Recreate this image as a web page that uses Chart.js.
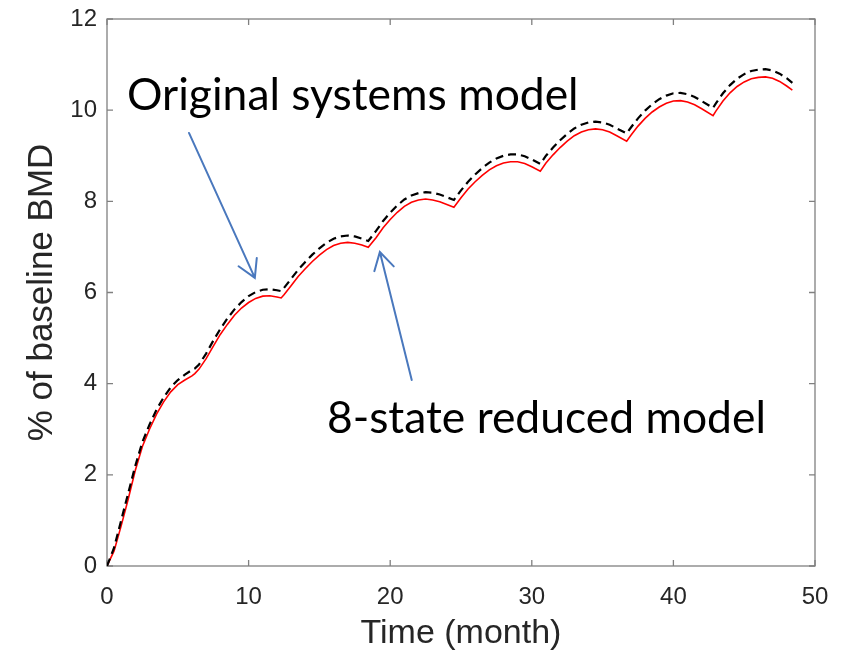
<!DOCTYPE html>
<html>
<head>
<meta charset="utf-8">
<script src="https://cdn.jsdelivr.net/npm/chart.js@4/dist/chart.umd.min.js"></script>
<style>
  html, body { margin: 0; padding: 0; background: #ffffff; }
  #wrap { width: 841px; height: 653px; }
</style>
</head>
<body>
<div id="wrap"><canvas id="bmd" width="841" height="653"></canvas></div>
<script>
// Time points (months)
const months = [
  0, 0.5, 1, 1.5, 2, 2.5, 3, 3.5, 4, 4.5, 5, 5.5, 6, 6.2,
  6.5, 7, 7.5, 8, 8.5, 9, 9.5, 10, 10.5, 11, 11.5, 12, 12.3,
  12.5, 13, 13.5, 14, 14.5, 15, 15.5, 16, 16.5, 17, 17.5, 18, 18.45,
  19, 19.5, 20, 20.5, 21, 21.5, 22, 22.5, 23, 23.5, 24, 24.5,
  25, 25.5, 26, 26.5, 27, 27.5, 28, 28.5, 29, 29.5, 30, 30.6,
  31, 31.5, 32, 32.5, 33, 33.5, 34, 34.5, 35, 35.5, 36, 36.7,
  37, 37.5, 38, 38.5, 39, 39.5, 40, 40.5, 41, 41.5, 42, 42.8,
  43, 43.5, 44, 44.5, 45, 45.5, 46, 46.5, 47, 47.5, 48, 48.4
];

// Original systems model (% of baseline BMD)
const originalModel = [
  0, 0.4, 1.0, 1.6, 2.2, 2.72, 3.1, 3.43, 3.7, 3.92, 4.08, 4.2, 4.3, 4.33,
  4.42, 4.66, 4.94, 5.2, 5.43, 5.63, 5.79, 5.92, 6.01, 6.06, 6.07, 6.05, 6.03,
  6.1, 6.3, 6.5, 6.67, 6.83, 6.97, 7.09, 7.18, 7.23, 7.25, 7.23, 7.18, 7.13,
  7.35, 7.57, 7.75, 7.91, 8.04, 8.13, 8.18, 8.2, 8.19, 8.15, 8.09, 8.03,
  8.24, 8.43, 8.59, 8.73, 8.85, 8.94, 9.0, 9.03, 9.03, 8.99, 8.92, 8.82,
  9.0, 9.18, 9.34, 9.48, 9.6, 9.68, 9.73, 9.75, 9.73, 9.68, 9.6, 9.49,
  9.62, 9.82, 9.99, 10.13, 10.24, 10.32, 10.37, 10.38, 10.35, 10.29, 10.2, 10.05,
  10.15, 10.37, 10.55, 10.69, 10.79, 10.86, 10.89, 10.9, 10.87, 10.8, 10.7, 10.6
];

// 8-state reduced model (% of baseline BMD)
const reducedModel = [
  0, 0.33, 0.88, 1.47, 2.1, 2.62, 3.0, 3.33, 3.6, 3.82, 3.98, 4.08, 4.17, 4.22,
  4.32, 4.55, 4.82, 5.08, 5.3, 5.5, 5.66, 5.78, 5.87, 5.92, 5.93, 5.9, 5.88,
  5.95, 6.15, 6.35, 6.52, 6.68, 6.82, 6.94, 7.03, 7.08, 7.1, 7.08, 7.04, 6.99,
  7.2, 7.42, 7.6, 7.76, 7.89, 7.98, 8.03, 8.05, 8.03, 7.99, 7.93, 7.87,
  8.08, 8.27, 8.43, 8.57, 8.69, 8.78, 8.84, 8.87, 8.87, 8.83, 8.76, 8.66,
  8.84, 9.02, 9.18, 9.32, 9.44, 9.52, 9.57, 9.59, 9.57, 9.52, 9.44, 9.32,
  9.45, 9.65, 9.82, 9.96, 10.07, 10.15, 10.2, 10.21, 10.18, 10.12, 10.03, 9.88,
  9.98, 10.2, 10.38, 10.52, 10.62, 10.69, 10.72, 10.73, 10.7, 10.63, 10.53, 10.44
];

// Axis tick values
const xTickValues = [0, 10, 20, 30, 40, 50];
const yTickValues = [0, 2, 4, 6, 8, 10, 12];

// Callout labels with arrows, placed in data coordinates
const callouts = [
  { text: 'Original systems model', textAt: [1.41, 10.0], from: [5.79, 9.5], to: [10.44, 6.32] },
  { text: '8-state reduced model',  textAt: [15.53, 2.92], from: [21.52, 4.08], to: [19.27, 6.89] }
];

const AXIS_GRAY = '#808080';
const TEXT_GRAY = '#262626';

const toPoints = (xs, ys) => xs.map((x, i) => ({ x: x, y: ys[i] }));

// Fixed scale thickness with no tick-label overhang into the layout
const fixX = s => { s.height = 87; s.paddingLeft = 0; s.paddingRight = 0; };
const fixY = s => { s.width = 107; s.paddingTop = 0; s.paddingBottom = 0; };

// Box around the plot area with inward tick marks on all four sides
const boxTicks = {
  id: 'boxTicks',
  beforeDatasetsDraw(chart) {
    const { ctx, chartArea: a, scales } = chart;
    const len = 6;
    ctx.save();
    ctx.strokeStyle = AXIS_GRAY;
    ctx.lineWidth = 1.3;
    ctx.strokeRect(a.left, a.top, a.right - a.left, a.bottom - a.top);
    ctx.beginPath();
    scales.x.ticks.forEach(t => {
      const px = scales.x.getPixelForValue(t.value);
      ctx.moveTo(px, a.bottom); ctx.lineTo(px, a.bottom - len);
      ctx.moveTo(px, a.top);    ctx.lineTo(px, a.top + len);
    });
    scales.y.ticks.forEach(t => {
      const py = scales.y.getPixelForValue(t.value);
      ctx.moveTo(a.left, py);  ctx.lineTo(a.left + len, py);
      ctx.moveTo(a.right, py); ctx.lineTo(a.right - len, py);
    });
    ctx.stroke();
    ctx.restore();
  }
};

// Text callouts with open-headed arrows
const calloutPlugin = {
  id: 'callouts',
  afterDatasetsDraw(chart) {
    const { ctx, scales } = chart;
    const X = v => scales.x.getPixelForValue(v);
    const Y = v => scales.y.getPixelForValue(v);
    ctx.save();
    callouts.forEach(c => {
      ctx.font = '44.4px Lato';
      ctx.fillStyle = '#000000';
      ctx.textAlign = 'left';
      ctx.textBaseline = 'alphabetic';
      ctx.fillText(c.text, X(c.textAt[0]), Y(c.textAt[1]));

      const x1 = X(c.from[0]), y1 = Y(c.from[1]);
      const x2 = X(c.to[0]),   y2 = Y(c.to[1]);
      const ang = Math.atan2(y2 - y1, x2 - x1);
      const head = 20, spread = Math.PI / 6;
      ctx.strokeStyle = '#4a78bd';
      ctx.lineWidth = 2;
      ctx.lineCap = 'round';
      ctx.beginPath();
      ctx.moveTo(x1, y1); ctx.lineTo(x2, y2);
      ctx.moveTo(x2 - head * Math.cos(ang - spread), y2 - head * Math.sin(ang - spread));
      ctx.lineTo(x2, y2);
      ctx.lineTo(x2 - head * Math.cos(ang + spread), y2 - head * Math.sin(ang + spread));
      ctx.stroke();
    });
    ctx.restore();
  }
};

new Chart(document.getElementById('bmd'), {
  type: 'line',
  data: {
    datasets: [
      {
        label: 'Original systems model',
        data: toPoints(months, originalModel),
        borderColor: '#000000',
        borderWidth: 2.2,
        borderDash: [8, 5],
        pointRadius: 0,
        tension: 0,
        fill: false
      },
      {
        label: '8-state reduced model',
        data: toPoints(months, reducedModel),
        borderColor: '#ff0000',
        borderWidth: 1.6,
        pointRadius: 0,
        tension: 0,
        fill: false
      }
    ]
  },
  options: {
    responsive: false,
    devicePixelRatio: 1,
    animation: false,
    layout: { padding: { left: 0, right: 26, top: 19, bottom: 0 } },
    plugins: {
      legend: { display: false },
      tooltip: { enabled: false }
    },
    scales: {
      x: {
        type: 'linear',
        min: 0,
        max: 50,
        afterBuildTicks: s => { s.ticks = xTickValues.map(v => ({ value: v })); },
        afterFit: fixX,
        grid: { display: false, drawTicks: false },
        border: { display: false },
        ticks: {
          color: TEXT_GRAY,
          padding: 17,
          maxRotation: 0,
          font: { family: 'Liberation Sans', size: 24 }
        },
        title: {
          display: true,
          text: 'Time (month)',
          color: TEXT_GRAY,
          font: { family: 'Liberation Sans', size: 34 },
          padding: { top: 0, bottom: -1 }
        }
      },
      y: {
        type: 'linear',
        min: 0,
        max: 12,
        afterBuildTicks: s => { s.ticks = yTickValues.map(v => ({ value: v })); },
        afterFit: fixY,
        grid: { display: false, drawTicks: false },
        border: { display: false },
        ticks: {
          color: TEXT_GRAY,
          padding: 10,
          font: { family: 'Liberation Sans', size: 24 }
        },
        title: {
          display: true,
          text: '% of baseline BMD',
          color: TEXT_GRAY,
          font: { family: 'Liberation Sans', size: 35 },
          padding: { top: 21, bottom: 0 }
        }
      }
    }
  },
  plugins: [boxTicks, calloutPlugin]
});
</script>
</body>
</html>
